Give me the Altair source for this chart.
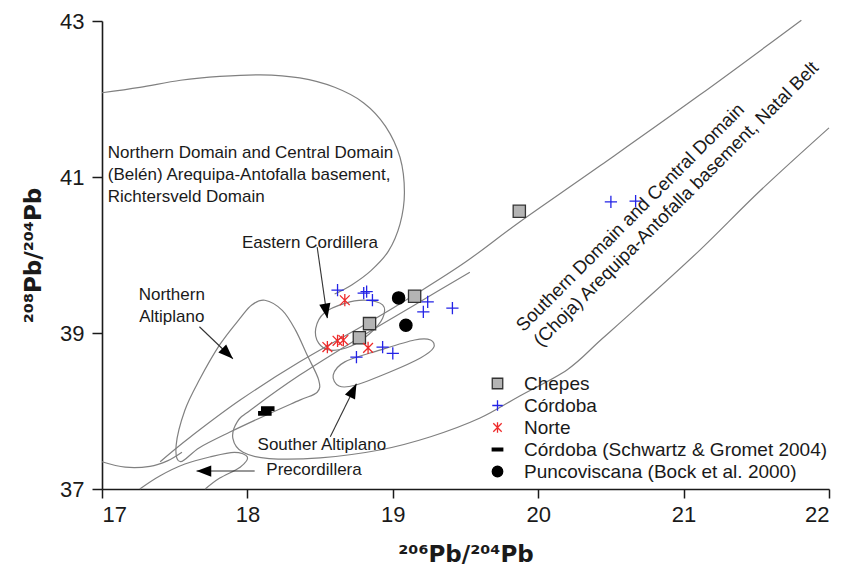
import altair as alt
import pandas as pd

FONT = "Liberation Sans"
TFONT = "DejaVu Sans"

# ---------------- sample data (206Pb/204Pb, 208Pb/204Pb) ----------------
chepes_x = [19.15, 18.84, 18.77, 19.87]
chepes_y = [39.47, 39.12, 38.94, 40.56]
cordoba_x = [18.62, 18.80, 18.82, 18.86, 19.24, 19.21, 19.41, 18.93, 19.00, 18.75, 20.50, 20.67]
cordoba_y = [39.55, 39.51, 39.53, 39.42, 39.40, 39.27, 39.32, 38.82, 38.74, 38.69, 40.68, 40.69]
norte_x = [18.67, 18.55, 18.62, 18.66, 18.83]
norte_y = [39.42, 38.82, 38.90, 38.91, 38.81]
schwartz_x = [18.14, 18.12]
schwartz_y = [38.03, 37.97]
punco_x = [19.04, 19.09]
punco_y = [39.45, 39.10]

series_names = ["Chepes", "Córdoba", "Norte",
                "Córdoba (Schwartz & Gromet 2004)", "Puncoviscana (Bock et al. 2000)"]

# ---------------- field outlines (data coordinates) ----------------
big_top_x = [17.00, 17.26, 17.54, 17.81, 18.09, 18.36, 18.60, 18.80, 18.95, 19.05, 19.08, 19.05, 18.97, 18.85, 18.72, 18.60]
big_top_y = [42.08, 42.15, 42.24, 42.29, 42.31, 42.27, 42.15, 41.95, 41.65, 41.25, 40.80, 40.40, 40.05, 39.80, 39.62, 39.50]
big_bot_x = [17.00, 17.16, 17.33, 17.45, 17.55]
big_bot_y = [37.35, 37.28, 37.29, 37.36, 37.47]
line_u_x = [21.81, 21.11, 20.43, 19.87, 19.50, 19.15, 18.84, 18.36, 17.95, 17.61, 17.40]
line_u_y = [43.01, 42.05, 41.15, 40.42, 39.91, 39.49, 39.14, 38.63, 38.14, 37.67, 37.35]
# southern band: upper-left inner boundary, rounded lower-left end, long lower boundary
band_x = [19.53, 19.15, 18.77, 18.36, 18.02, 17.93, 17.90, 17.97, 18.15, 18.50, 18.91, 19.26, 19.60,
          19.87, 20.20, 20.43, 20.70, 21.11, 21.53, 22.00]
band_y = [39.78, 39.36, 38.94, 38.46, 38.01, 37.86, 37.65, 37.47, 37.39, 37.40, 37.50, 37.67, 37.91,
          38.19, 38.53, 38.91, 39.36, 40.06, 40.83, 41.63]
precord_x = [17.26, 17.40, 17.57, 17.74, 17.91, 18.00, 17.95, 17.81, 17.71]
precord_y = [37.00, 37.17, 37.32, 37.41, 37.47, 37.41, 37.28, 37.14, 37.00]

ec_loop_x = [18.93, 18.81, 18.67, 18.53, 18.47, 18.49, 18.57, 18.71, 18.84, 18.93]
ec_loop_y = [39.36, 39.42, 39.38, 39.26, 39.06, 38.87, 38.78, 38.83, 38.99, 39.19]
na_loop_x = [18.12, 18.24, 18.33, 18.41, 18.49, 18.48, 18.36, 18.12, 17.88, 17.67, 17.54, 17.51, 17.57, 17.67, 17.81, 17.95, 18.03]
na_loop_y = [39.42, 39.29, 39.04, 38.72, 38.40, 38.24, 38.14, 37.94, 37.73, 37.53, 37.35, 37.56, 38.01, 38.40, 38.85, 39.19, 39.36]
sa_loop_x = [18.59, 18.67, 18.91, 19.15, 19.26, 19.28, 19.19, 18.98, 18.74, 18.63]
sa_loop_y = [38.46, 38.63, 38.78, 38.91, 38.91, 38.81, 38.68, 38.50, 38.33, 38.32]

# ---------------- arrows ----------------
arrow_x0 = [18.48, 17.67, 18.57, 18.05]
arrow_y0 = [40.10, 39.08, 37.67, 37.23]
arrow_x1 = [18.55, 17.90, 18.75, 17.65]
arrow_y1 = [39.19, 38.67, 38.35, 37.23]
arrow_angle = [170, 134, 26, 270]

# ---------------- annotation text ----------------
left_text = ["Northern Domain and Central Domain", "(Belén) Arequipa-Antofalla basement,",
             "Richtersveld Domain", "Souther Altiplano", "Precordillera"]
left_text_x = [17.04, 17.04, 17.04, 18.07, 18.13]
left_text_y = [41.31, 41.03, 40.74, 37.56, 37.24]
center_text = ["Eastern Cordillera", "Northern", "Altiplano"]
center_text_x = [18.43, 17.48, 17.48]
center_text_y = [40.15, 39.49, 39.21]
rot_text = ["Southern Domain and Central Domain", "(Choja) Arequipa-Antofalla basement, Natal Belt"]
rot_text_x = [19.87, 19.99]
rot_text_y = [39.06, 38.87]

# ---------------- tables ----------------
pts = []
for name, xs_, ys_ in zip(series_names,
                          [chepes_x, cordoba_x, norte_x, schwartz_x, punco_x],
                          [chepes_y, cordoba_y, norte_y, schwartz_y, punco_y]):
    for a, b in zip(xs_, ys_):
        pts.append({"x": a, "y": b, "series": name})
pts = pd.DataFrame(pts)

def curve_df(curves):
    rows = []
    for cid, (cx, cy) in curves.items():
        for i, (a, b) in enumerate(zip(cx, cy)):
            rows.append({"x": a, "y": b, "cid": cid, "o": i})
    return pd.DataFrame(rows)

open_df = curve_df({"bt": (big_top_x, big_top_y), "bb": (big_bot_x, big_bot_y),
                    "u": (line_u_x, line_u_y), "band": (band_x, band_y),
                    "pc": (precord_x, precord_y)})
closed_df = curve_df({"ec": (ec_loop_x, ec_loop_y), "na": (na_loop_x, na_loop_y),
                      "sa": (sa_loop_x, sa_loop_y)})
arrows = pd.DataFrame({"x0": arrow_x0, "y0": arrow_y0, "x1": arrow_x1, "y1": arrow_y1,
                       "ang": arrow_angle})
ltxt = pd.DataFrame({"x": left_text_x, "y": left_text_y, "t": left_text})
ctxt = pd.DataFrame({"x": center_text_x, "y": center_text_y, "t": center_text})
rtxt = pd.DataFrame({"x": rot_text_x, "y": rot_text_y, "t": rot_text})

xs = alt.Scale(domain=[17, 22], nice=False, zero=False)
ys = alt.Scale(domain=[37, 43], nice=False, zero=False)

X = alt.X("x:Q", scale=xs, axis=alt.Axis(
    values=[17, 18, 19, 20, 21, 22], format="d", title="²⁰⁶Pb/²⁰⁴Pb", grid=False,
    labelFont=FONT, labelFontSize=22, labelColor="#1a1a1a", labelPadding=6,
    tickSize=9, tickWidth=1.5, tickColor="#1a1a1a", domainColor="#1a1a1a", domainWidth=1.6,
    titleFont=TFONT, titleFontSize=23, titleFontWeight="bold", titleColor="#1a1a1a",
    titlePadding=18))
Y = alt.Y("y:Q", scale=ys, axis=alt.Axis(
    values=[37, 39, 41, 43], format="d", title="²⁰⁸Pb/²⁰⁴Pb", grid=False,
    labelFont=FONT, labelFontSize=22, labelColor="#1a1a1a", labelPadding=8,
    tickSize=10, tickWidth=1.5, tickColor="#1a1a1a", domainColor="#1a1a1a", domainWidth=1.6,
    titleFont=TFONT, titleFontSize=23, titleFontWeight="bold", titleColor="#1a1a1a",
    titlePadding=14))

line_col = "#808080"
open_lines = alt.Chart(open_df).mark_line(color=line_col, strokeWidth=1.2, interpolate="cardinal").encode(
    x=X, y=Y, detail="cid:N", order="o:Q")
closed_lines = alt.Chart(closed_df).mark_line(color=line_col, strokeWidth=1.2, interpolate="cardinal-closed").encode(
    x="x:Q", y="y:Q", detail="cid:N", order="o:Q")

arrow_lines = alt.Chart(arrows).mark_rule(color="#333333", strokeWidth=1.1).encode(
    x="x0:Q", y="y0:Q", x2="x1:Q", y2="y1:Q")
arrow_heads = alt.Chart(arrows).mark_point(
    shape="M0,0L0.65,1.7L-0.65,1.7Z", filled=True, color="black", size=300, opacity=1).encode(
    x="x1:Q", y="y1:Q", angle=alt.Angle("ang:Q", scale=None))

leg = alt.Legend(orient="none", legendX=386, legendY=353, title=None, labelFont=FONT,
                 labelFontSize=19, labelColor="#1a1a1a", symbolSize=110, rowPadding=2,
                 labelOffset=17, symbolStrokeWidth=1.3, padding=0, labelLimit=0)
shape_range = ["square", "M-1,0L1,0M0,-1L0,1",
               "M-0.8,-0.8L0.8,0.8M-0.8,0.8L0.8,-0.8M0,-1L0,1",
               "M-1,-0.28L1,-0.28L1,0.28L-1,0.28Z", "circle"]
points = alt.Chart(pts).mark_point(size=150, strokeWidth=1.3, opacity=1, filled=True).encode(
    x="x:Q", y="y:Q",
    shape=alt.Shape("series:N", scale=alt.Scale(domain=series_names, range=shape_range), legend=leg),
    fill=alt.Fill("series:N", scale=alt.Scale(domain=series_names,
                  range=["#b4b4b4", "transparent", "transparent", "#000000", "#000000"]), legend=leg),
    stroke=alt.Stroke("series:N", scale=alt.Scale(domain=series_names,
                      range=["#333333", "#2323e6", "#ee2a2a", "#000000", "#000000"]), legend=leg),
)

tl = alt.Chart(ltxt).mark_text(align="left", baseline="middle", font=FONT, fontSize=17, color="#1a1a1a").encode(
    x="x:Q", y="y:Q", text="t:N")
tc = alt.Chart(ctxt).mark_text(align="center", baseline="middle", font=FONT, fontSize=17, color="#1a1a1a").encode(
    x="x:Q", y="y:Q", text="t:N")
tr = alt.Chart(rtxt).mark_text(align="left", baseline="middle", font=FONT, fontSize=18.5, color="#1a1a1a",
                               angle=315).encode(x="x:Q", y="y:Q", text="t:N")

chart = alt.layer(open_lines, closed_lines, arrow_lines, arrow_heads, points, tl, tc, tr).properties(
    width=727, height=468, autosize="none",
    padding={"left": 102, "top": 21, "right": 30, "bottom": 84},
    background="white",
).configure_view(stroke=None)

chart.save("out.html", embed_options={"renderer": "svg", "actions": False})
